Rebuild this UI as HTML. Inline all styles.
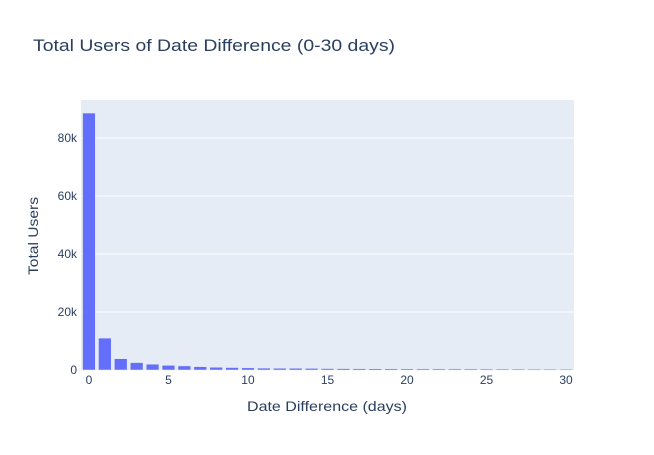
<!DOCTYPE html>
<html><head><meta charset="utf-8"><style>
body{margin:0;background:#fff;font-family:"Liberation Sans",sans-serif}
</style></head><body>
<svg id="c" width="654" height="450" xmlns="http://www.w3.org/2000/svg" font-family="Liberation Sans, sans-serif">
<text x="33" y="51" font-size="17" fill="#2a3f5f" textLength="362" lengthAdjust="spacingAndGlyphs">Total Users of Date Difference (0-30 days)</text>
<rect x="81" y="100" width="493" height="270" fill="#e5ecf6"/>
<g id="grid"></g><g id="bars"></g><g id="ticks"></g>
<text x="247" y="411" font-size="14" fill="#2a3f5f" textLength="160" lengthAdjust="spacingAndGlyphs">Date Difference (days)</text>
<text transform="translate(38,275) rotate(-90)" font-size="14" fill="#2a3f5f" textLength="78" lengthAdjust="spacingAndGlyphs">Total Users</text>
</svg>
<script>
const categories=[0,1,2,3,4,5,6,7,8,9,10,11,12,13,14,15,16,17,18,19,20,21,22,23,24,25,26,27,28,29,30];
const values=[88600,11000,3900,2550,2000,1600,1400,1150,950,850,750,650,600,600,550,500,480,460,440,420,400,390,380,370,360,350,340,330,320,310,300];
const xTicks=[0,5,10,15,20,25,30];
const yTicks=[0,20000,40000,60000,80000];
const yTickLabels=["0","20k","40k","60k","80k"];
const ns="http://www.w3.org/2000/svg";
const x=v=>81+(v+0.5)*(493/31);
const y=v=>370-v*(270/93100);
function mk(t,a,p,txt){const e=document.createElementNS(ns,t);for(const k in a)e.setAttribute(k,a[k]);if(txt!==undefined)e.textContent=txt;p.appendChild(e);return e;}
const G=document.getElementById('grid'),B=document.getElementById('bars'),T=document.getElementById('ticks');
yTicks.forEach((v,i)=>{
 if(v>0){const l=mk('line',{x1:81,x2:574,y1:y(v),y2:y(v),stroke:'#fff','stroke-width':1},G);
 
 }
 const t=mk('text',{x:77,y:y(v)+4,'font-size':12,fill:'#2a3f5f','text-anchor':'end'},T,yTickLabels[i]);
 
 
});
xTicks.forEach(v=>{
 const t=mk('text',{x:x(v),y:384,'font-size':12,fill:'#2a3f5f','text-anchor':'middle'},T,String(v));
 
 
});
const bw=493/31*0.8;
categories.forEach((c,i)=>{
 const r=mk('rect',{x:x(c)-bw/2,y:y(values[i]),width:bw,height:370-y(values[i]),fill:'#636efa',stroke:'#e5ecf6','stroke-width':0.5},B);
 
 
});
</script>
</body></html>
